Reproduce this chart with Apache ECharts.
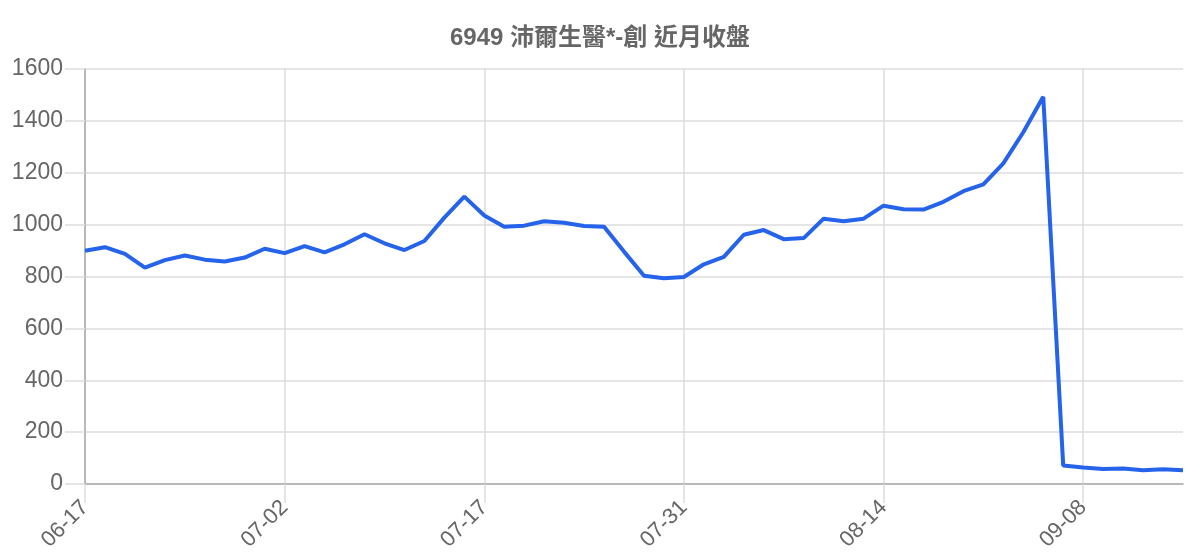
<!DOCTYPE html>
<html>
<head>
<meta charset="utf-8">
<script src="https://cdn.jsdelivr.net/npm/echarts@6/dist/echarts.min.js"></script>
<style>
  html, body { margin: 0; padding: 0; background: #fff; }
  #chart { width: 1200px; height: 560px; }
</style>
</head>
<body>
<div id="chart"></div>
<script>
// 交易日（只顯示每 10 筆的標籤）
var dates = [
  '06-17', '06-18', '06-19', '06-20', '06-23', '06-24', '06-25', '06-26', '06-30', '07-01',
  '07-02', '07-03', '07-04', '07-07', '07-08', '07-09', '07-10', '07-11', '07-14', '07-16',
  '07-17', '07-18', '07-21', '07-22', '07-23', '07-24', '07-25', '07-28', '07-29', '07-30',
  '07-31', '08-01', '08-04', '08-05', '08-06', '08-07', '08-08', '08-11', '08-12', '08-13',
  '08-14', '08-15', '08-18', '08-19', '08-20', '08-21', '08-22', '08-25', '08-26', '09-05',
  '09-08', '09-09', '09-10', '09-11', '09-12', '09-15'
];
// 收盤價
var closes = [
  899, 913, 887, 834, 863, 881, 865, 858, 873, 907,
  890, 917, 893, 924, 963, 928, 902, 937, 1027, 1108,
  1035, 992, 996, 1013, 1007, 995, 992, 896, 803, 793,
  798, 847, 876, 961, 979, 944, 948, 1023, 1013, 1023,
  1073, 1059, 1058, 1088, 1129, 1155, 1236, 1356, 1493, 71,
  64, 58, 60, 53, 57, 53
];
var yTicks = [0, 200, 400, 600, 800, 1000, 1200, 1400, 1600];
var titleText = '6949 沛爾生醫*-創 近月收盤';

var font = '"Liberation Sans", Arial, "Noto Sans CJK TC", sans-serif';
var chart = echarts.init(document.getElementById('chart'));
chart.setOption({
  animation: false,
  title: {
    text: titleText,
    left: 'center',
    top: 21,
    textStyle: { fontFamily: font, fontSize: 24, fontWeight: 'bold', color: '#666' }
  },
  grid: { left: 85, right: 17, top: 69, bottom: 76, containLabel: false },
  xAxis: {
    type: 'category',
    data: dates,
    boundaryGap: false,
    axisLine: { show: true, lineStyle: { color: '#aaa', width: 1.5 } },
    axisTick: { show: true, interval: 9, length: 19, lineStyle: { color: '#ddd', width: 1.5 } },
    axisLabel: { interval: 9, rotate: 45, margin: 20, fontFamily: font, fontSize: 22, color: '#666' },
    splitLine: { show: true, interval: 9, lineStyle: { color: '#ddd', width: 1.5 } }
  },
  yAxis: {
    type: 'value',
    min: yTicks[0],
    max: yTicks[yTicks.length - 1],
    interval: yTicks[1] - yTicks[0],
    axisLine: { show: true, lineStyle: { color: '#aaa', width: 1.5 } },
    axisTick: { show: true, length: 20, lineStyle: { color: '#ddd', width: 1.5 } },
    axisLabel: {
      margin: 22, fontFamily: font, fontSize: 23, color: '#666',
      formatter: function (v) { return String(v); }
    },
    splitLine: { show: true, lineStyle: { color: '#ddd', width: 1.5 } }
  },
  series: [{
    type: 'line',
    data: closes,
    showSymbol: false,
    symbol: 'none',
    lineStyle: { color: '#2563eb', width: 4 },
    itemStyle: { color: '#2563eb' }
  }]
});
</script>
</body>
</html>
